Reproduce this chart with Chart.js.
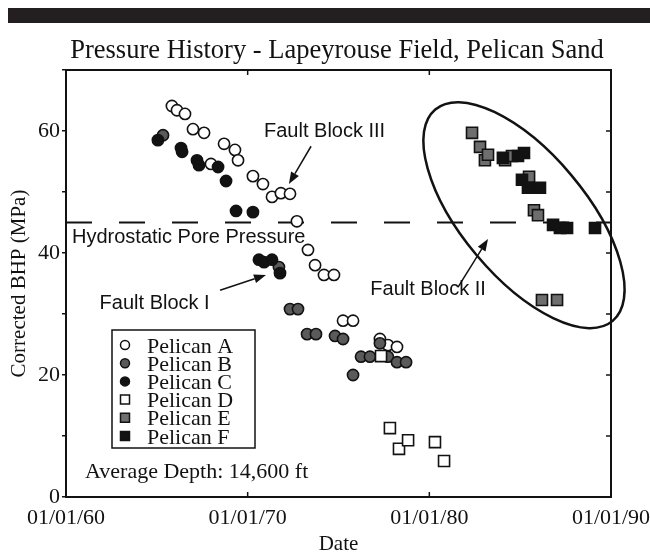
<!DOCTYPE html>
<html>
<head>
  <title>Pressure History - Lapeyrouse Field, Pelican Sand</title>
  <script src="https://cdn.jsdelivr.net/npm/chart.js"></script>
  <style>
    body { margin: 0; background: #fff; }
  </style>
</head>
<body>
  <canvas id="chart" width="650" height="553"></canvas>

  <script>
    // dates as decimal years, corrected BHP in MPa
    const yearsA = [1965.83, 1966.11, 1966.55, 1966.99, 1967.60, 1967.98, 1968.70, 1969.30, 1969.47, 1970.29, 1970.84, 1971.34, 1971.83, 1972.33, 1972.71, 1973.32, 1973.71, 1974.20, 1974.75, 1975.25, 1975.80, 1977.28, 1977.72, 1978.22];
    const bhpA   = [64.1, 63.4, 62.8, 60.3, 59.7, 54.6, 57.9, 56.9, 55.2, 52.6, 51.3, 49.2, 49.8, 49.7, 45.2, 40.5, 38.0, 36.4, 36.4, 28.9, 28.9, 25.9, 24.9, 24.6];

    const yearsB = [1965.34, 1971.72, 1972.33, 1972.77, 1973.27, 1973.76, 1974.81, 1975.25, 1975.80, 1976.24, 1976.73, 1977.28, 1977.72, 1978.22, 1978.72];
    const bhpB   = [59.3, 37.7, 30.8, 30.8, 26.7, 26.7, 26.4, 25.9, 20.0, 23.0, 23.0, 25.2, 23.0, 22.1, 22.1];

    const yearsC = [1965.06, 1966.33, 1966.39, 1967.21, 1967.32, 1968.37, 1968.81, 1969.36, 1970.29, 1970.62, 1970.90, 1971.34, 1971.78];
    const bhpC   = [58.5, 57.2, 56.6, 55.2, 54.4, 54.1, 51.8, 46.9, 46.7, 38.9, 38.5, 38.9, 36.7];

    const yearsD = [1977.34, 1977.83, 1978.33, 1978.83, 1980.31, 1980.81];
    const bhpD   = [23.1, 11.3, 7.9, 9.3, 9.0, 5.9];

    const yearsE = [1982.35, 1982.79, 1983.06, 1983.23, 1984.17, 1984.55, 1985.49, 1985.76, 1985.98, 1986.20, 1987.03];
    const bhpE   = [59.7, 57.4, 55.2, 56.1, 55.2, 55.9, 52.5, 47.0, 46.2, 32.3, 32.3];

    const yearsF = [1984.05, 1984.88, 1985.21, 1985.10, 1985.43, 1986.09, 1986.81, 1987.19, 1987.58, 1989.12];
    const bhpF   = [55.6, 55.9, 56.4, 52.0, 50.7, 50.7, 44.6, 44.1, 44.1, 44.1];

    const hydrostatic = 45;
    const xTickValues = [1960, 1970, 1980, 1990];
    const yTickLabels = [0, 20, 40, 60];

    const serif = '"Liberation Serif", "Times New Roman", serif';
    const sans = '"Liberation Sans", Arial, sans-serif';
    const ink = '#121212';

    const series = [
      { label: 'Pelican A', years: yearsA, bhp: bhpA, shape: 'circle', fill: '#ffffff' },
      { label: 'Pelican B', years: yearsB, bhp: bhpB, shape: 'circle', fill: '#5a5a5a' },
      { label: 'Pelican C', years: yearsC, bhp: bhpC, shape: 'circle', fill: ink },
      { label: 'Pelican D', years: yearsD, bhp: bhpD, shape: 'rect', fill: '#ffffff' },
      { label: 'Pelican E', years: yearsE, bhp: bhpE, shape: 'rect', fill: '#6e6e6e' },
      { label: 'Pelican F', years: yearsF, bhp: bhpF, shape: 'rect', fill: ink }
    ];

    const datasets = series.map((s, i) => ({
      label: s.label,
      data: s.years.map((yr, j) => ({ x: yr, y: s.bhp[j] })),
      pointStyle: s.shape,
      pointRadius: s.shape === 'circle' ? 5.6 : 7.8,
      backgroundColor: s.fill,
      borderColor: ink,
      borderWidth: 1.6,
      order: series.length - i
    }));

    datasets.push({
      type: 'line',
      label: 'Hydrostatic',
      data: [{ x: 1960, y: hydrostatic }, { x: 1990, y: hydrostatic }],
      borderColor: ink,
      borderWidth: 2,
      borderDash: [26, 27],
      pointRadius: 0,
      order: 10
    });

    // annotation anchors in data units
    const notes = [
      { text: 'Fault Block III', x: 1970.90, y: 59.0 },
      { text: 'Hydrostatic Pore Pressure', x: 1960.33, y: 41.6 },
      { text: 'Fault Block I', x: 1961.85, y: 30.8 },
      { text: 'Fault Block II', x: 1976.75, y: 33.1 }
    ];
    const arrows = [
      { from: [1973.49, 57.5], to: [1972.27, 51.3] },
      { from: [1968.48, 33.9], to: [1971.01, 36.4] },
      { from: [1981.58, 34.4], to: [1983.23, 42.3] }
    ];

    function arrow(ctx, x1, y1, x2, y2) {
      const ang = Math.atan2(y2 - y1, x2 - x1);
      const len = 12, hw = 4.5;
      const bx = x2 - Math.cos(ang) * len, by = y2 - Math.sin(ang) * len;
      ctx.beginPath();
      ctx.moveTo(x1, y1);
      ctx.lineTo(bx, by);
      ctx.stroke();
      ctx.beginPath();
      ctx.moveTo(x2, y2);
      ctx.lineTo(bx + Math.sin(ang) * hw, by - Math.cos(ang) * hw);
      ctx.lineTo(bx - Math.sin(ang) * hw, by + Math.cos(ang) * hw);
      ctx.closePath();
      ctx.fill();
    }

    const decorations = {
      id: 'decorations',
      beforeDraw(chart) {
        const ctx = chart.ctx;
        ctx.save();
        ctx.fillStyle = '#231f20';
        ctx.fillRect(8, 8, chart.width - 8, 15);
        ctx.fillStyle = ink;
        ctx.font = '26.5px ' + serif;
        ctx.textAlign = 'center';
        ctx.textBaseline = 'alphabetic';
        ctx.fillText('Pressure History - Lapeyrouse Field, Pelican Sand', 337, 58);
        ctx.restore();
      },
      afterDraw(chart) {
        const { ctx, chartArea: a, scales: { x, y } } = chart;
        ctx.save();
        ctx.strokeStyle = ink;
        ctx.fillStyle = ink;

        // top and right frame
        ctx.lineWidth = 2;
        ctx.beginPath();
        ctx.moveTo(a.left, a.top);
        ctx.lineTo(a.right, a.top);
        ctx.lineTo(a.right, a.bottom);
        ctx.stroke();

        // inward tick marks
        ctx.lineWidth = 1.5;
        xTickValues.slice(1, -1).forEach(v => {
          const px = x.getPixelForValue(v);
          ctx.beginPath();
          ctx.moveTo(px, a.bottom); ctx.lineTo(px, a.bottom - 5);
          ctx.moveTo(px, a.top); ctx.lineTo(px, a.top + 5);
          ctx.stroke();
        });
        for (let v = 10; v < 70; v += 10) {
          const py = y.getPixelForValue(v);
          ctx.beginPath();
          ctx.moveTo(a.right, py); ctx.lineTo(a.right - 5, py);
          ctx.stroke();
        }

        // ellipse around fault block II
        ctx.lineWidth = 2.5;
        ctx.beginPath();
        ctx.ellipse(x.getPixelForValue(1985.21), y.getPixelForValue(46.2), 138, 62, 50 * Math.PI / 180, 0, Math.PI * 2);
        ctx.stroke();

        // arrows
        ctx.lineWidth = 1.5;
        arrows.forEach(ar => {
          arrow(ctx, x.getPixelForValue(ar.from[0]), y.getPixelForValue(ar.from[1]),
                x.getPixelForValue(ar.to[0]), y.getPixelForValue(ar.to[1]));
        });

        // labels
        ctx.font = '20px ' + sans;
        ctx.textBaseline = 'alphabetic';
        ctx.textAlign = 'left';
        notes.forEach(n => ctx.fillText(n.text, x.getPixelForValue(n.x), y.getPixelForValue(n.y)));

        // legend box
        const lx = a.left + 46, ly = a.top + 260;
        ctx.fillStyle = '#fff';
        ctx.fillRect(lx, ly, 143, 118);
        ctx.lineWidth = 1.5;
        ctx.strokeRect(lx, ly, 143, 118);
        ctx.font = '22px ' + serif;
        series.forEach((s, i) => {
          const cy = ly + 15 + i * 18.2;
          ctx.fillStyle = s.fill;
          ctx.lineWidth = 1.5;
          ctx.beginPath();
          if (s.shape === 'circle') ctx.arc(lx + 13, cy, 4.5, 0, Math.PI * 2);
          else ctx.rect(lx + 8.5, cy - 4.5, 9, 9);
          ctx.fill();
          ctx.stroke();
          ctx.fillStyle = ink;
          ctx.fillText(s.label, lx + 35, cy + 7.5);
        });

        ctx.fillText('Average Depth: 14,600 ft', x.getPixelForValue(1961.05), y.getPixelForValue(3.1));
        ctx.restore();
      }
    };

    new Chart(document.getElementById('chart'), {
      type: 'scatter',
      data: { datasets: datasets },
      plugins: [decorations],
      options: {
        responsive: false,
        animation: false,
        layout: { padding: { top: 70, right: 39, left: 0, bottom: 0 } },
        plugins: {
          legend: { display: false },
          tooltip: { enabled: false },
          title: { display: false }
        },
        scales: {
          x: {
            type: 'linear',
            min: 1960,
            max: 1990,
            afterFit: s => { s.height = 56; s.paddingLeft = 0; s.paddingRight = 0; },
            afterBuildTicks: s => { s.ticks = xTickValues.map(v => ({ value: v })); },
            ticks: {
              callback: v => '01/01/' + String(v).slice(2),
              color: ink,
              font: { family: serif, size: 22 },
              padding: 8,
              maxRotation: 0,
              autoSkip: false
            },
            grid: { display: false, drawTicks: false },
            border: { display: true, color: ink, width: 2 },
            title: {
              display: true,
              text: 'Date',
              color: ink,
              font: { family: serif, size: 21, lineHeight: 0.8 },
              padding: 0
            }
          },
          y: {
            min: 0,
            max: 70,
            afterFit: s => { s.width = 66; s.paddingTop = 0; s.paddingBottom = 0; },
            ticks: {
              stepSize: 10,
              callback: v => yTickLabels.includes(v) ? String(v) : '',
              color: ink,
              font: { family: serif, size: 22 },
              padding: 2
            },
            grid: { drawOnChartArea: false, drawTicks: true, tickLength: 4, color: ink, lineWidth: 1.5 },
            border: { display: true, color: ink, width: 2 },
            title: {
              display: true,
              text: 'Corrected BHP (MPa)',
              color: ink,
              font: { family: serif, size: 21 },
              padding: { top: 7, bottom: 0 }
            }
          }
        }
      }
    });
  </script>
</body>
</html>
